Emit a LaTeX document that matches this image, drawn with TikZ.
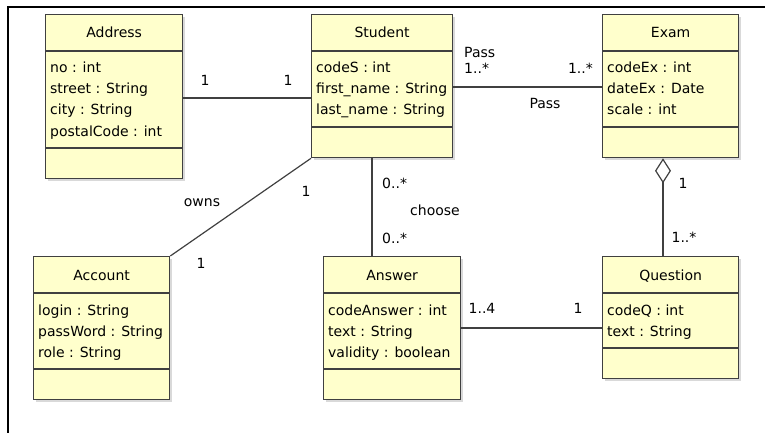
\documentclass[tikz,border=0pt]{standalone}
\usepackage{fontspec}
\setmainfont{DejaVu Sans}
\usetikzlibrary{arrows.meta, shadows, calc}
\definecolor{classfill}{RGB}{255,255,204}
\definecolor{umlline}{RGB}{64,64,64}

\begin{document}
\begin{tikzpicture}[
    x=1pt, y=-1pt,
    font=\fontsize{14}{16}\selectfont,
    umlbox/.style={draw=umlline, line width=1.3pt, fill=classfill, anchor=north west, inner sep=0pt,
        drop shadow={shadow xshift=2pt, shadow yshift=-2pt, opacity=0.25, fill=black!60}},
    umlsep/.style={draw=umlline, line width=1.3pt},
    cname/.style={anchor=base, inner sep=0pt},
    attr/.style={anchor=base west, inner sep=0pt},
    mult/.style={inner sep=0pt},
    assoc/.style={draw=umlline, line width=1.2pt}
]
    \useasboundingbox (0,0) rectangle (765,433);
    % Frame
    \draw[line width=2pt] (8,433) -- (8,7) -- (765,7);

    % Address
    \node[umlbox, minimum width=137, minimum height=164] (address) at (45,14) {};
    \draw[umlsep] ($(address.north west)+(0,37)$) -- +(137,0);
    \draw[umlsep] ($(address.north west)+(0,134)$) -- +(137,0);
    \node[cname] (address-name) at ($(address.north)+(0,24)$) {Address};
    \foreach \a [count=\i] in {no : int, street : String, city : String, postalCode : int}
        \node[attr] (address-\i) at ($(address.north west)+(5,38+21*\i)$) {\a};

    % Student
    \node[umlbox, minimum width=141, minimum height=143] (student) at (311,14) {};
    \draw[umlsep] ($(student.north west)+(0,37)$) -- +(141,0);
    \draw[umlsep] ($(student.north west)+(0,113)$) -- +(141,0);
    \node[cname] (student-name) at ($(student.north)+(0,24)$) {Student};
    \foreach \a [count=\i] in {codeS : int, first\_name : String, last\_name : String}
        \node[attr] (student-\i) at ($(student.north west)+(5,38+21*\i)$) {\a};

    % Exam
    \node[umlbox, minimum width=136, minimum height=143] (exam) at (602,14) {};
    \draw[umlsep] ($(exam.north west)+(0,37)$) -- +(136,0);
    \draw[umlsep] ($(exam.north west)+(0,113)$) -- +(136,0);
    \node[cname] (exam-name) at ($(exam.north)+(0,24)$) {Exam};
    \foreach \a [count=\i] in {codeEx : int, dateEx : Date, scale : int}
        \node[attr] (exam-\i) at ($(exam.north west)+(5,38+21*\i)$) {\a};

    % Account
    \node[umlbox, minimum width=136, minimum height=143] (account) at (33,256) {};
    \draw[umlsep] ($(account.north west)+(0,37)$) -- +(136,0);
    \draw[umlsep] ($(account.north west)+(0,113)$) -- +(136,0);
    \node[cname] (account-name) at ($(account.north)+(0,24)$) {Account};
    \foreach \a [count=\i] in {login : String, passWord : String, role : String}
        \node[attr] (account-\i) at ($(account.north west)+(5,38+21*\i)$) {\a};

    % Answer
    \node[umlbox, minimum width=137, minimum height=143] (answer) at (323,256) {};
    \draw[umlsep] ($(answer.north west)+(0,37)$) -- +(137,0);
    \draw[umlsep] ($(answer.north west)+(0,113)$) -- +(137,0);
    \node[cname] (answer-name) at ($(answer.north)+(0,24)$) {Answer};
    \foreach \a [count=\i] in {codeAnswer : int, text : String, validity : boolean}
        \node[attr] (answer-\i) at ($(answer.north west)+(5,38+21*\i)$) {\a};

    % Question
    \node[umlbox, minimum width=136, minimum height=122] (question) at (602,256) {};
    \draw[umlsep] ($(question.north west)+(0,37)$) -- +(136,0);
    \draw[umlsep] ($(question.north west)+(0,92)$) -- +(136,0);
    \node[cname] (question-name) at ($(question.north)+(0,24)$) {Question};
    \foreach \a [count=\i] in {codeQ : int, text : String}
        \node[attr] (question-\i) at ($(question.north west)+(5,38+21*\i)$) {\a};

    % Associations
    \coordinate (as) at (0,98);
    \coordinate (se) at (0,87);
    \coordinate (sa) at (372,0);
    \coordinate (eq) at (663,0);
    \coordinate (aq) at (0,328);
    \draw[assoc] (address.east |- as) -- (student.west |- as);
    \draw[assoc] (student.east |- se) -- (exam.west |- se);
    \draw[assoc] (student.south west) -- (account.north east);
    \draw[assoc] (student.south -| sa) -- (answer.north -| sa);
    \draw[assoc] (answer.east |- aq) -- (question.west |- aq);
    \draw[assoc, {Diamond[open, length=25pt, width=16pt]}-] (exam.south -| eq) -- (question.north -| eq);

    % Multiplicities and roles
    \node[mult] (m-ad) at (205,80) {1};
    \node[mult] (m-sa) at (288,80) {1};
    \node[mult, anchor=west] (r-se) at (464,52) {Pass};
    \node[mult, anchor=west] (m-se) at (464,68) {1..*};
    \node[mult, anchor=east] (m-es) at (593,68) {1..*};
    \node[mult] (r-es) at (545,103) {Pass};
    \node[mult] (r-owns) at (202,203) {owns};
    \node[mult] (m-sac) at (306,191) {1};
    \node[mult] (m-acs) at (201,263) {1};
    \node[mult, anchor=west] (m-san) at (382,183) {0..*};
    \node[mult] (r-choose) at (435,210) {choose};
    \node[mult, anchor=west] (m-ans) at (382,238) {0..*};
    \node[mult] (m-aq) at (482,308) {1..4};
    \node[mult] (m-qa) at (578,308) {1};
    \node[mult] (m-eq) at (683,183) {1};
    \node[mult] (m-qe) at (684,237) {1..*};
\end{tikzpicture}
\end{document}
